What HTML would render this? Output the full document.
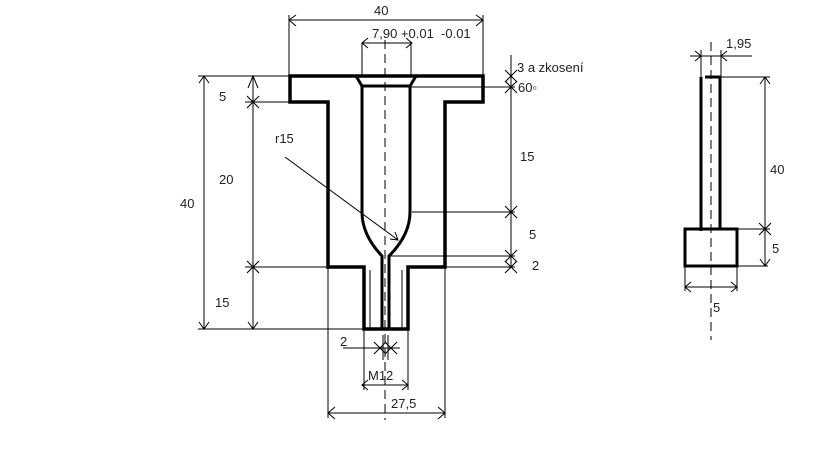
<!DOCTYPE html>
<html><head><meta charset="utf-8"><style>
html,body{margin:0;padding:0;background:#fff;width:819px;height:460px;overflow:hidden}
svg{display:block}
text{font-family:"Liberation Sans",sans-serif;font-size:13px;fill:#222}
</style></head><body>
<svg width="819" height="460" viewBox="0 0 819 460" xmlns="http://www.w3.org/2000/svg">
<defs>
<g id="x"><path d="M-6,-6L6,6M-6,6L6,-6" stroke="#000" stroke-width="1" fill="none"/></g>
</defs>
<g fill="none" stroke="#000">
<path d="M290,76 H483 V102 H445 V267 H408 V329 H364 V267 H328 V102 H290 Z" stroke-width="3.5"/>
<path d="M356,76 L362,86 H410 L416,76" stroke-width="3"/>
<path d="M362,86 V212 Q362,235 382,256 V329 M410,86 V212 Q410,235 389,256 V329" stroke-width="3"/>
<path d="M370,270 V329 M402,270 V329" stroke-width="1"/>
<path d="M385,40 V420" stroke-width="1" stroke-dasharray="9,5"/>

<g stroke-width="1">
<path d="M289,20 H483 M289,15 V76 M483,15 V76"/>
<path d="M296,15 L289,20 L296,26 M476,15 L483,20 L476,26"/>
<path d="M362,43 H412 M362,43 V76 M411,43 V76"/>
<path d="M368,38 L362,43 L368,48 M406,38 L412,43 L406,48"/>
<path d="M204,76 V329 M198,76 H290 M198,329 H365"/>
<path d="M199,83 L204,76 L209,83 M199,322 L204,329 L209,322"/>
<path d="M253,76 V329 M245,102 H290 M245,267 H330"/>
<path d="M248,88 L253,76 L258,88 M248,322 L253,329 L258,322"/>
<path d="M511,55 V267 M410,87 H515 M412,212 H515 M390,256 H515 M445,267 H515"/>
<path d="M285,157 L398,240 M390,239 L398,240 L395,232"/>
<path d="M343,348 H400 M383,335 V360 M388,335 V360"/>
<path d="M364,329 V390 M408,329 V390 M362,385 H408"/>
<path d="M368,380 L362,385 L368,390 M402,380 L408,385 L402,390"/>
<path d="M328,267 V418 M445,267 V418 M328,413 H445"/>
<path d="M335,407 L328,413 L335,419 M438,407 L445,413 L438,419"/>
</g>
</g>
<use href="#x" x="253" y="102"/>
<use href="#x" x="253" y="267"/>
<use href="#x" x="511" y="76"/>
<use href="#x" x="511" y="87"/>
<use href="#x" x="511" y="212"/>
<use href="#x" x="511" y="256"/>
<use href="#x" x="511" y="267"/>
<use href="#x" x="380" y="348"/>
<use href="#x" x="391" y="348"/>

<g fill="none" stroke="#000">
<path d="M701,77 V231 M720,77 V229 M705,77 H721" stroke-width="3"/>
<path d="M685,229 H737 V266 H685 Z" stroke-width="3"/>
<path d="M711,42 V340" stroke-width="1" stroke-dasharray="9,5"/>
<g stroke-width="1">
<path d="M690,56 H752 M701,50 V77 M721,50 V77"/>
<path d="M695,51 L701,56 L695,61 M727,51 L721,56 L727,61"/>
<path d="M765,77 V266 M721,77 H770 M737,229 H770 M737,266 H768"/>
<path d="M685,266 V291 M737,266 V291 M685,287 H737"/>
<path d="M691,282 L685,287 L691,292 M731,282 L737,287 L731,292"/>
<path d="M760,84 L765,77 L770,84 M760,259 L765,266 L770,259"/>
</g>
</g>
<use href="#x" x="765" y="229"/>

<text x="374" y="15">40</text>
<text x="372" y="38">7,90 +0.01&#160;&#160;-0.01</text>
<text x="517" y="72">3 a zkosení</text>
<text x="518" y="92">60◦</text>
<text x="180" y="208">40</text>
<text x="219" y="101">5</text>
<text x="219" y="184">20</text>
<text x="215" y="307">15</text>
<text x="275" y="143">r15</text>
<text x="520" y="161">15</text>
<text x="529" y="239">5</text>
<text x="532" y="270">2</text>
<text x="340" y="346">2</text>
<text x="368" y="380">M12</text>
<text x="391" y="408">27,5</text>
<text x="726" y="48">1,95</text>
<text x="770" y="174">40</text>
<text x="772" y="253">5</text>
<text x="713" y="312">5</text>
</svg>
</body></html>
